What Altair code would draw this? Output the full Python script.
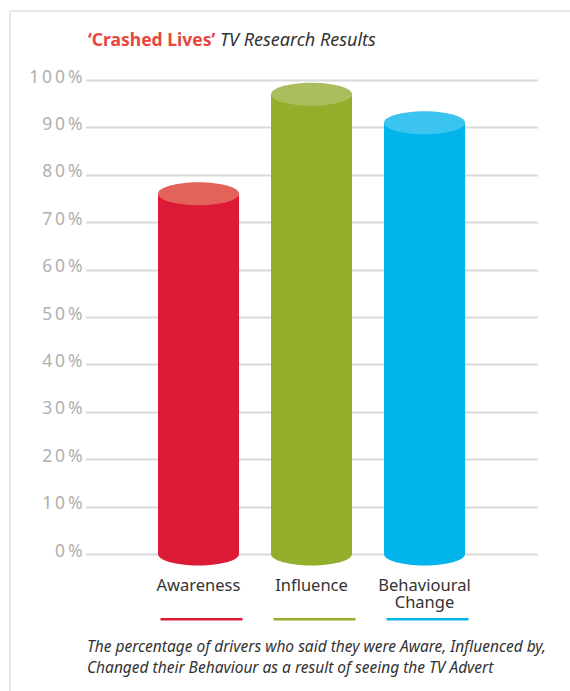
import altair as alt
import pandas as pd

# ---- data -------------------------------------------------------------
categories = ["Awareness", "Influence", "Behavioural\nChange"]
values = [76, 97, 91]
body_colors = ["#DC1A36", "#93AE2B", "#01B4EC"]
top_colors = ["#E3635B", "#ABBE5E", "#3CC4F1"]
y_ticks = [0, 10, 20, 30, 40, 50, 60, 70, 80, 90, 100]

title_red = "\u2018Crashed Lives\u2019"
title_rest = "TV Research Results"
caption = ("The percentage of drivers who said they were Aware, Influenced by,\n"
           "Changed their Behaviour as a result of seeing the TV Advert")

# ---- layout -----------------------------------------------------------
FONT = "Noto Sans"
PAD_L, PAD_R = 85.5, 32.5
W, H = 452, 691
BAR_W = 81
# flat ellipse used for the cylinder ends (path scaled by sqrt(size)/2)
ELLIPSE = "M -1 0 A 1 0.284 0 1 1 1 0 A 1 0.284 0 1 1 -1 0 Z"

df = pd.DataFrame({
    "category": categories,
    "value": values,
    "body": body_colors,
    "top": top_colors,
    "zero": [0] * len(categories),
})

x_enc = alt.X(
    "category:N", sort=categories, axis=None,
    scale=alt.Scale(type="point", padding=1),
)
y_scale = alt.Scale(domain=[0, 100], range=[554, 80], nice=False)
# spaced-out percentage labels
y_axis = alt.Axis(
    values=y_ticks, title=None,
    labelExpr="join(split(datum.value + '%', ''), '\u2009')",
    grid=True, gridColor="#dadada", gridWidth=2,
    domain=False, ticks=False,
    labelFont=FONT, labelFontSize=17.5, labelColor="#b0b0b0",
    labelPadding=3.5, labelBaseline="alphabetic", labelOffset=2,
)

base = alt.Chart(df)

# cylinder bodies
body = base.mark_bar(width=BAR_W).encode(
    x=x_enc,
    y=alt.Y("value:Q", scale=y_scale, axis=y_axis),
    color=alt.Color("body:N", scale=None),
)

bottom_cap = base.mark_point(
    shape=ELLIPSE, size=BAR_W ** 2, filled=True, opacity=1, strokeWidth=0
).encode(
    x=x_enc,
    y=alt.Y("zero:Q", scale=y_scale, axis=y_axis),
    color=alt.Color("body:N", scale=None),
)

top_cap = base.mark_point(
    shape=ELLIPSE, size=BAR_W ** 2, filled=True, opacity=1, strokeWidth=0
).encode(
    x=x_enc,
    y=alt.Y("value:Q", scale=y_scale, axis=y_axis),
    color=alt.Color("top:N", scale=None),
)

# category names under each cylinder
names = base.mark_text(
    font=FONT, fontSize=16.5, color="#333333", lineBreak="\n",
    baseline="alphabetic", lineHeight=17,
).encode(x=x_enc, y=alt.value(591), text="category:N")

# coloured underline below each name
underline = base.mark_bar(width=82, xOffset=3).encode(
    x=x_enc, y=alt.value(618), y2=alt.value(620.5),
    color=alt.Color("body:N", scale=None),
)

one = pd.DataFrame({"t": [0]})

frame_top = alt.Chart(one).mark_rule(color="#e2e2e2", strokeWidth=1.5).encode(
    x=alt.value(10 - PAD_L), x2=alt.value(570 - PAD_L), y=alt.value(11)
)
frame_left = alt.Chart(one).mark_rule(color="#e2e2e2", strokeWidth=1.5).encode(
    x=alt.value(10 - PAD_L), y=alt.value(11), y2=alt.value(691)
)

heading_red = alt.Chart(pd.DataFrame({"t": [title_red]})).mark_text(
    font=FONT, fontSize=17.5, fontWeight="bold", color="#E8463D",
    align="left", baseline="alphabetic",
).encode(x=alt.value(88 - PAD_L), y=alt.value(46), text="t:N")

heading_rest = alt.Chart(pd.DataFrame({"t": [title_rest]})).mark_text(
    font=FONT, fontSize=18, fontStyle="italic", color="#333333",
    align="left", baseline="alphabetic",
).encode(x=alt.value(220 - PAD_L), y=alt.value(46), text="t:N")

note = alt.Chart(pd.DataFrame({"t": [caption]})).mark_text(
    font=FONT, fontSize=15.5, fontStyle="italic", color="#333333",
    align="left", baseline="alphabetic", lineBreak="\n", lineHeight=21,
).encode(x=alt.value(87 - PAD_L), y=alt.value(652), text="t:N")

chart = alt.layer(
    body, bottom_cap, top_cap, names, underline,
    frame_top, frame_left, heading_red, heading_rest, note,
).properties(
    width=W, height=H,
    autosize=alt.AutoSizeParams(type="none"),
    padding={"left": PAD_L, "right": PAD_R, "top": 0, "bottom": 0},
    background="white",
).configure_view(strokeWidth=0)

chart.save("out.html", embed_options={"renderer": "svg", "actions": False})
